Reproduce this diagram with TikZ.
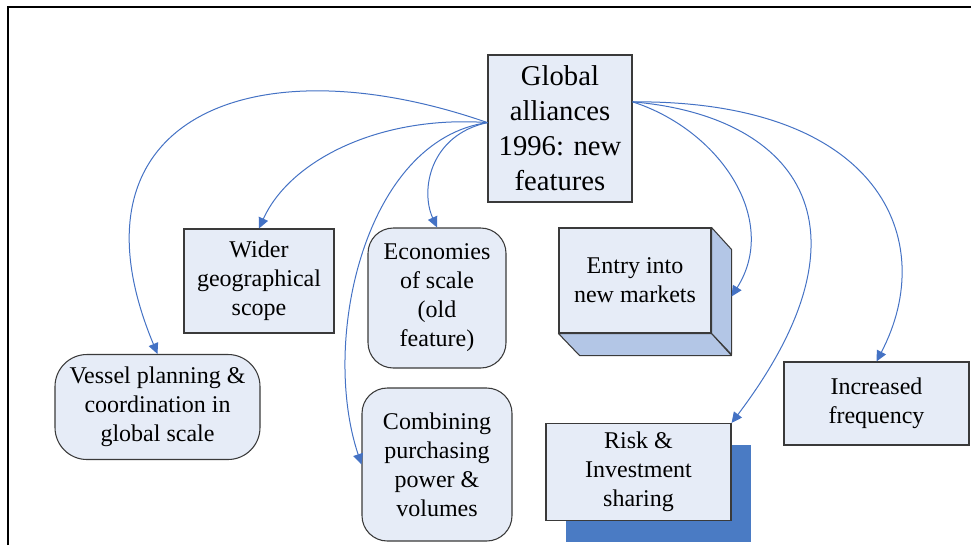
\documentclass[tikz,border=0pt]{standalone}
\usepackage{fontspec}
\setmainfont{Liberation Serif}
\usepackage{xcolor}
\usepackage{tikz}
\usetikzlibrary{calc,arrows.meta,shadows}
\definecolor{boxfill}{HTML}{E6ECF7}
\definecolor{boxline}{HTML}{3A3A3A}
\definecolor{linkblue}{HTML}{4472C4}
\definecolor{side}{HTML}{B3C6E6}
\definecolor{shade}{HTML}{4A7BC4}
\tikzset{
  box/.style={draw=boxline, fill=boxfill, line width=0.8pt, align=center, inner sep=2pt,
    font=\fontsize{18}{21.75}\selectfont, execute at begin node={\rule{0pt}{16.5pt}}},
  rbox/.style={box, rounded corners=19pt},
  face/.style={draw=boxline, fill=side, line width=0.8pt, line join=round},
  arr/.style={draw=linkblue, line width=0.75pt, -{Triangle[length=8pt,width=7.5pt]}},
  frameline/.style={draw=black, line width=1.5pt},
}

\begin{document}
\begin{tikzpicture}[x=0.75pt, y=-0.75pt]
  \useasboundingbox (0,0) rectangle (971,558);
  \draw[frameline] (8,545) -- (8,7) -- (971,7);

  \node[box, minimum width=108pt, minimum height=110.25pt,
        font=\fontsize{21.5}{26.25}\selectfont, execute at begin node={}] (glob) at (560,128.5)
        {Global\\alliances\\1996: new\\features};
  \node[box, minimum width=112.5pt, minimum height=78pt] (wider) at (259,281)
        {Wider\\geographical\\scope};
  \node[rbox, minimum width=103.5pt, minimum height=105pt] (econ) at (437,298)
        {Economies\\of scale\\(old\\feature)};
  \node[rbox, minimum width=112.5pt, minimum height=114.75pt] (comb) at (437,464.5)
        {Combining\\purchasing\\power \&\\volumes};
  \node[rbox, rounded corners=24pt, minimum width=153.75pt, minimum height=78.75pt] (vessel) at (157.5,407)
        {Vessel planning \&\\coordination in\\global scale};
  \node[box, minimum width=114pt, minimum height=78.75pt] (entry) at (635,280.5)
        {Entry into\\new markets};
  \draw[face] (entry.north east) -- ++(20,22) -- ++(0,105) -- (entry.south east) -- cycle;
  \draw[face] (entry.south west) -- (entry.south east) -- ++(20,22) -- ++(-152,0) -- cycle;
  \node[box, minimum width=138.75pt, minimum height=72.75pt,
        drop shadow={shadow xshift=15pt, shadow yshift=-15.75pt, fill=shade, opacity=1}] (risk) at (638.5,472)
        {Risk \&\\Investment\\sharing};
  \node[box, minimum width=138.75pt, minimum height=62.25pt] (freq) at (876.5,403.5)
        {Increased\\frequency};

  \coordinate (gl) at ($(glob.north west)!0.46!(glob.south west)$);
  \coordinate (gr) at ($(glob.north east)!0.32!(glob.south east)$);
  \coordinate (entryside) at ($(entry.east)+(20,16)$);

  \draw[arr] (gl) .. controls (250,40) and (60,120) .. (vessel.north);
  \draw[arr] (gl) .. controls (380,115) and (290,160) .. (wider.north);
  \draw[arr] (gl) .. controls (365,140) and (320,340) .. (comb.west);
  \draw[arr] (gl) .. controls (430,135) and (420,190) .. (econ.north);
  \draw[arr] (gr) .. controls (720,130) and (780,220) .. (entryside);
  \draw[arr] (gr) .. controls (790,115) and (885,220) .. (risk.north east);
  \draw[arr] (gr) .. controls (880,100) and (940,240) .. (freq.north);
\end{tikzpicture}
\end{document}
